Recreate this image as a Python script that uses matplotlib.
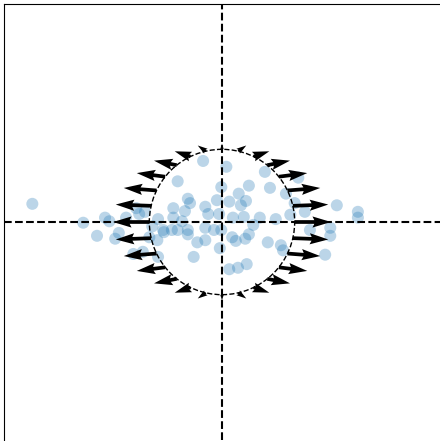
import numpy as np
import matplotlib.pyplot as plt

# sample points
xs = [-2.61, -1.91, -1.72, -1.61, -1.55, -1.47, -1.42, -1.32, -1.18, -1.14, -1.06,
      -1.22, -1.09, -1.00, -0.26, -0.61, -0.01, -0.07, -0.47, -0.44, -0.67, -0.51,
      -0.23, -0.19, -0.04, -0.67, -0.55, -0.81, -0.80, -0.69, -0.61, -0.47, -0.47,
      -0.23, -0.11, -0.88, -0.89, -0.34, -0.23, -0.01, -0.03, -0.39, -0.88, -0.96,
      0.06, 0.10, 0.23, 0.26, 0.33, 0.37, 0.15, 0.30, 0.43, 0.52, 0.14, 0.19, 0.32,
      0.37, 0.10, 0.22, 0.34, 0.59, 0.66, 0.63, 0.74, 0.81, 0.84, 0.88, 0.94, 1.00,
      1.05, 1.14, 1.21, 1.42, 1.49, 1.49, 1.58, 1.87, 1.87]
ys = [0.25, -0.01, -0.19, 0.06, 0.01, -0.23, -0.15, 0.06, 0.19, 0.11, 0.14,
      -0.44, -0.41, -0.21, 0.84, 0.56, 0.48, 0.30, 0.32, 0.26, 0.19, 0.15,
      0.21, 0.11, 0.11, 0.06, 0.01, -0.11, -0.14, -0.11, -0.11, -0.11, -0.17,
      -0.08, -0.11, 0.04, -0.25, -0.28, -0.25, -0.11, -0.36, -0.48, -0.48, -0.06,
      0.76, 0.28, 0.39, 0.23, 0.29, 0.50, 0.06, 0.07, -0.04, 0.06, -0.21, -0.26, -0.23,
      -0.17, -0.65, -0.63, -0.58, 0.69, 0.47, -0.28, 0.04, -0.32, -0.39, 0.39, 0.10, 0.26,
      0.61, 0.14, -0.11, -0.45, -0.08, -0.19, 0.23, 0.14, 0.06]

# arrows on the unit circle, stretched along x
n_arrows = 28
stretch = [0.5, 0.08]

theta = np.linspace(0, 2 * np.pi, n_arrows, endpoint=False)
cx, cy = np.cos(theta), np.sin(theta)

fig = plt.figure(figsize=(4.4, 4.41), dpi=100)
ax = fig.add_axes([4 / 440, 1 - 440 / 441, 436 / 440, 436 / 441])

ax.scatter(xs, ys, s=75, color='C0', alpha=0.3, edgecolors='none')
ax.axhline(0, color='k', ls='--', lw=1.5)
ax.axvline(0, color='k', ls='--', lw=1.5)
ax.add_patch(plt.Circle((0, 0), 1, fill=False, ls='--', lw=1, color='k'))
ax.quiver(cx, cy, stretch[0] * cx, stretch[1] * cy, angles='xy',
          scale_units='xy', scale=1, width=0.0085, color='k')

ax.set_xlim(-3, 3)
ax.set_ylim(-3, 3)
ax.set_xticks([])
ax.set_yticks([])
ax.spines['right'].set_visible(False)
ax.spines['bottom'].set_visible(False)

fig.savefig('out.png', dpi=100)
